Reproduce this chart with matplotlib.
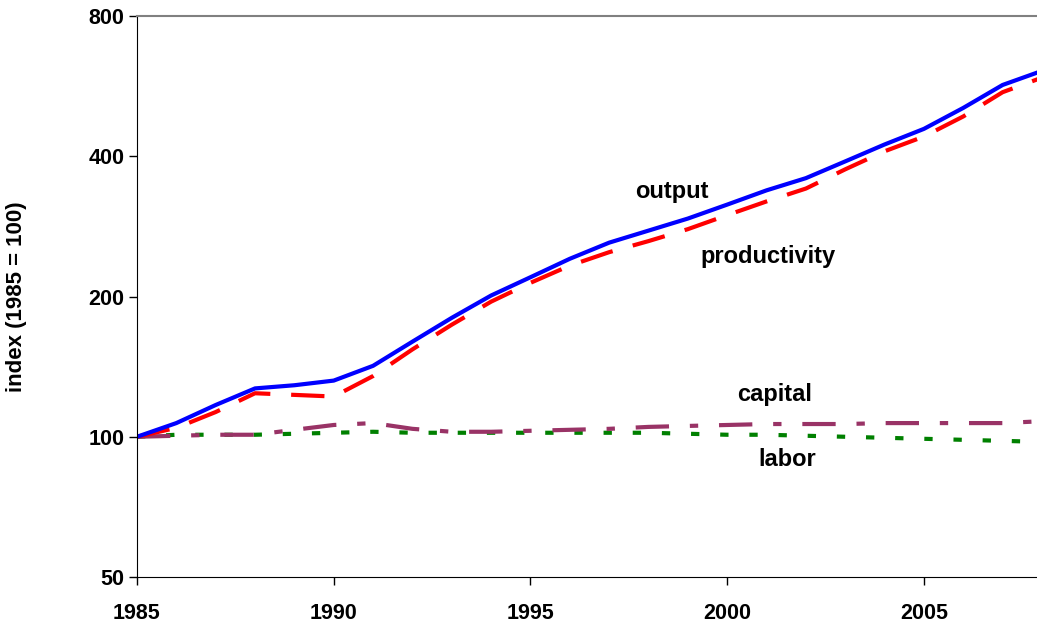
import matplotlib
matplotlib.use("Agg")
import matplotlib.pyplot as plt
from matplotlib.ticker import FixedLocator, NullLocator

# values (index, 1985 = 100)
years = list(range(1985, 2009))
output = [100, 107, 117, 127, 129, 132, 142, 160, 180, 201, 220, 241, 261, 277,
          294, 315, 338, 359, 390, 424, 458, 508, 569, 610]
productivity = [100, 104.5, 113, 124, 123, 122, 135, 154, 174, 195, 214, 233, 249, 263,
                279, 299, 320, 341, 375, 410, 441, 487, 549, 590]
capital = [100, 100.5, 101, 101, 103.5, 106, 107, 104, 102.5, 102.5, 103, 103.5, 104, 105,
           105.5, 106, 106.5, 106.5, 106.5, 107, 107, 107, 107, 108]
labor = [100, 101, 101, 101, 101.5, 102, 102.5, 102, 102, 102, 102, 102, 102, 102,
         101.5, 101, 101, 100.5, 100, 99.5, 99, 98.5, 98, 97.5]

y_ticks = [50, 100, 200, 400, 800]
x_ticks = [1985, 1990, 1995, 2000, 2005]

plt.rcParams['font.family'] = ['Liberation Sans', 'DejaVu Sans']
plt.rcParams['font.weight'] = 'bold'

fig = plt.figure(figsize=(10.37, 6.23), dpi=100)
ax = fig.add_axes([0.1321, 0.0738, 0.8727, 0.9005])

ax.plot(years, labor, color='#008000', lw=3, linestyle=(0, (2, 5)))
ax.plot(years, capital, color='#993366', lw=3, linestyle=(0, (8, 5, 2, 5)))
ax.plot(years, productivity, color='#ff0000', lw=3, linestyle=(0, (8, 5)))
ax.plot(years, output, color='#0000ff', lw=3)

ax.set_yscale('log')
ax.set_ylim(50, 800)
ax.set_xlim(1985, 2008)
ax.yaxis.set_major_locator(FixedLocator(y_ticks))
ax.yaxis.set_minor_locator(NullLocator())
ax.set_yticklabels([str(v) for v in y_ticks])
ax.set_xticks(x_ticks)
ax.tick_params(labelsize=15.5, length=6, width=1, direction='out')
ax.tick_params(axis='x', pad=13)
ax.tick_params(axis='y', pad=3)
for lab in ax.get_xticklabels() + ax.get_yticklabels():
    lab.set_fontweight('bold')

ax.set_ylabel('index (1985 = 100)', fontsize=16, fontweight='bold')
ax.yaxis.set_label_coords(-110 / 905, 0.5)

ax.spines['right'].set_visible(False)
ax.spines['top'].set_color('#808080')
ax.spines['top'].set_linewidth(1.5)

txt = dict(fontsize=17, fontweight='bold', ha='center', va='center')
fig.text(672 / 1037, 1 - 191 / 623, 'output', **txt)
fig.text(768 / 1037, 1 - 257 / 623, 'productivity', **txt)
fig.text(775 / 1037, 1 - 395 / 623, 'capital', **txt)
fig.text(787 / 1037, 1 - 460 / 623, 'labor', **txt)

fig.savefig('out.png', dpi=100)
